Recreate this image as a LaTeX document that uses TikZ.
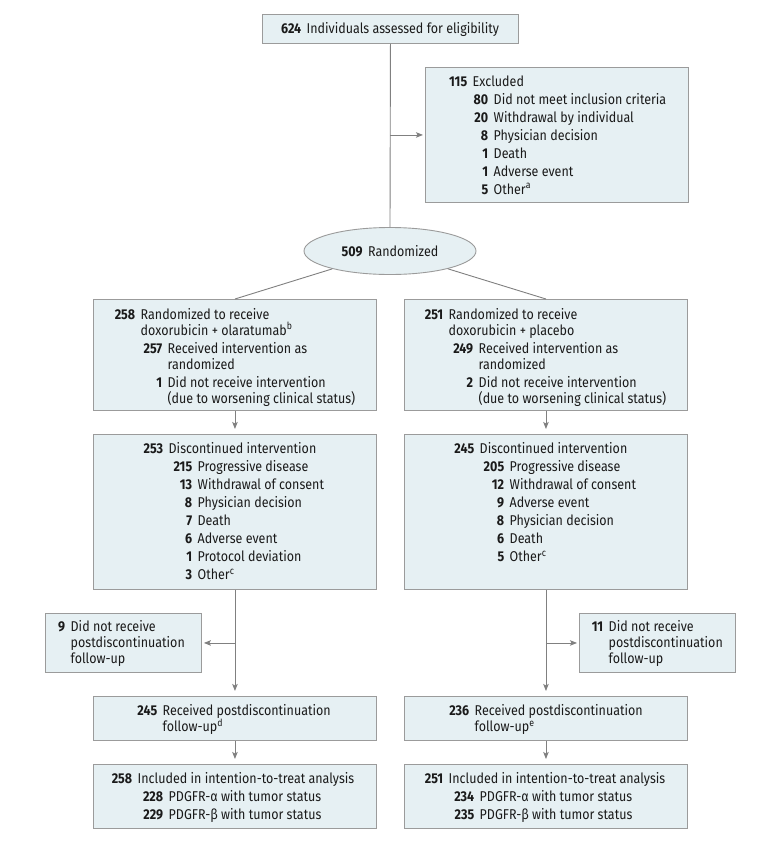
\documentclass[tikz,border=0pt]{standalone}
\usepackage{fontspec}
\setmainfont[FakeStretch=0.88]{Fira Sans}
\usetikzlibrary{shapes.geometric,arrows.meta}
\definecolor{boxfill}{HTML}{E6F0F3}
\definecolor{boxline}{HTML}{9B9B9B}
\definecolor{conn}{HTML}{808080}
\definecolor{ink}{HTML}{1A1A1A}
\newcommand\Ln[3]{\hbox{\makebox[#1pt][r]{\bfseries #2}\hspace{5.5pt}#3}}
\newcommand\Wr[2]{\vskip-2pt\hbox{\hspace{\dimexpr#1pt+5.5pt\relax}#2}}
\begin{document}
\begin{tikzpicture}[x=1pt,y=-1pt,
  box/.style={draw=boxline, fill=boxfill, line width=0.9pt, inner sep=0pt, anchor=north west},
  txt/.style={anchor=base west, inner sep=0pt, text=ink, font=\fontsize{14.2}{18}\selectfont},
  conline/.style={draw=conn, line width=0.9pt},
  arrv/.style={conline, -{Stealth[length=7pt,width=5.5pt,inset=1.5pt]}, shorten >=5pt},
  arrh/.style={conline, -{Stealth[length=7pt,width=5.5pt,inset=1.5pt]}, shorten >=2pt}]
\fill[white] (0,0) rectangle (780,841);
\useasboundingbox (0,0) rectangle (780,841);

% boxes
\node[box, minimum width=256pt, minimum height=29pt] (top) at (262,14) {};
\node[box, minimum width=263pt, minimum height=135pt] (excl) at (425,67) {};
\node[ellipse, draw=boxline, fill=boxfill, line width=0.9pt, minimum width=172pt, minimum height=47pt, inner sep=0pt, text=ink, font=\fontsize{14.2}{18}\selectfont] (rand) at (390,251) {\textbf{509}\hspace{5.5pt}Randomized};
\node[box, minimum width=283pt, minimum height=111pt] (L1) at (93,299) {};
\node[box, minimum width=283pt, minimum height=111pt] (R1) at (404,299) {};
\node[box, minimum width=283pt, minimum height=155pt] (L2) at (93,434) {};
\node[box, minimum width=283pt, minimum height=155pt] (R2) at (404,434) {};
\node[box, minimum width=156pt, minimum height=59pt] (n9) at (45,613) {};
\node[box, minimum width=156pt, minimum height=59pt] (n11) at (579,613) {};
\node[box, minimum width=283pt, minimum height=44pt] (L3) at (93,696) {};
\node[box, minimum width=283pt, minimum height=44pt] (R3) at (404,696) {};
\node[box, minimum width=283pt, minimum height=64pt] (L4) at (93,764) {};
\node[box, minimum width=283pt, minimum height=64pt] (R4) at (404,764) {};

% texts
\node[txt] (ttop) at ([yshift=-19.5pt]top.north west) {\vtop{\Ln{39}{624}{Individuals assessed for eligibility}}};
\node[txt] (texcl) at ([yshift=-19pt]excl.north west) {\vtop{%
  \Ln{42}{115}{Excluded}
  \Ln{63}{80}{Did not meet inclusion criteria}
  \Ln{63}{20}{Withdrawal by individual}
  \Ln{63}{8}{Physician decision}
  \Ln{63}{1}{Death}
  \Ln{63}{1}{Adverse event}
  \Ln{63}{5}{Other\textsuperscript{a}}}};
\node[txt] (tL1) at ([yshift=-20pt]L1.north west) {\vtop{%
  \Ln{42}{258}{Randomized to receive}
  \Wr{42}{doxorubicin + olaratumab\textsuperscript{b}}
  \Ln{69}{257}{Received intervention as}
  \Wr{69}{randomized}
  \Ln{69}{1}{Did not receive intervention}
  \Wr{69}{(due to worsening clinical status)}}};
\node[txt] (tR1) at ([yshift=-20pt]R1.north west) {\vtop{%
  \Ln{39}{251}{Randomized to receive}
  \Wr{39}{doxorubicin + placebo}
  \Ln{69}{249}{Received intervention as}
  \Wr{69}{randomized}
  \Ln{69}{2}{Did not receive intervention}
  \Wr{69}{(due to worsening clinical status)}}};
\node[txt] (tL2) at ([yshift=-19.5pt]L2.north west) {\vtop{%
  \Ln{70}{253}{Discontinued intervention}
  \Ln{99}{215}{Progressive disease}
  \Ln{99}{13}{Withdrawal of consent}
  \Ln{99}{8}{Physician decision}
  \Ln{99}{7}{Death}
  \Ln{99}{6}{Adverse event}
  \Ln{99}{1}{Protocol deviation}
  \Ln{99}{3}{Other\textsuperscript{c}}}};
\node[txt] (tR2) at ([yshift=-19.5pt]R2.north west) {\vtop{%
  \Ln{70}{245}{Discontinued intervention}
  \Ln{100}{205}{Progressive disease}
  \Ln{100}{12}{Withdrawal of consent}
  \Ln{100}{9}{Adverse event}
  \Ln{100}{8}{Physician decision}
  \Ln{100}{6}{Death}
  \Ln{100}{5}{Other\textsuperscript{c}}}};
\node[txt] (tn9) at ([yshift=-18.5pt]n9.north west) {\vtop{%
  \Ln{20}{9}{Did not receive}
  \Wr{20}{postdiscontinuation}
  \Wr{20}{follow-up}}};
\node[txt] (tn11) at ([yshift=-18.5pt]n11.north west) {\vtop{%
  \Ln{24}{11}{Did not receive}
  \Wr{24}{postdiscontinuation}
  \Wr{24}{follow-up}}};
\node[txt] (tL3) at ([yshift=-19.5pt]L3.north west) {\vtop{%
  \Ln{64}{245}{Received postdiscontinuation}
  \Wr{64}{follow-up\textsuperscript{d}}}};
\node[txt] (tR3) at ([yshift=-19.5pt]R3.north west) {\vtop{%
  \Ln{65}{236}{Received postdiscontinuation}
  \Wr{65}{follow-up\textsuperscript{e}}}};
\node[txt] (tL4) at ([yshift=-19.5pt]L4.north west) {\vtop{%
  \Ln{39}{258}{Included in intention-to-treat analysis}
  \Ln{70}{228}{PDGFR-α with tumor status}
  \Ln{70}{229}{PDGFR-β with tumor status}}};
\node[txt] (tR4) at ([yshift=-19.5pt]R4.north west) {\vtop{%
  \Ln{39}{251}{Included in intention-to-treat analysis}
  \Ln{70}{234}{PDGFR-α with tumor status}
  \Ln{70}{235}{PDGFR-β with tumor status}}};

% connectors
\draw[conline] (top.south) -- (rand.north);
\coordinate (ex) at (top.south |- excl.west);
\draw[arrh] (ex) -- (excl.west);
\draw[conline] (rand) -- (L1.north);
\draw[conline] (rand) -- (R1.north);
\draw[arrv] (L1.south) -- (L2.north);
\draw[arrv] (R1.south) -- (R2.north);
\draw[arrv] (L2.south) -- (L3.north);
\draw[arrv] (R2.south) -- (R3.north);
\coordinate (lb) at (L2.south |- n9.east);
\coordinate (rb) at (R2.south |- n11.west);
\draw[arrh] (lb) -- (n9.east);
\draw[arrh] (rb) -- (n11.west);
\draw[arrv] (L3.south) -- (L4.north);
\draw[arrv] (R3.south) -- (R4.north);
\end{tikzpicture}
\end{document}
